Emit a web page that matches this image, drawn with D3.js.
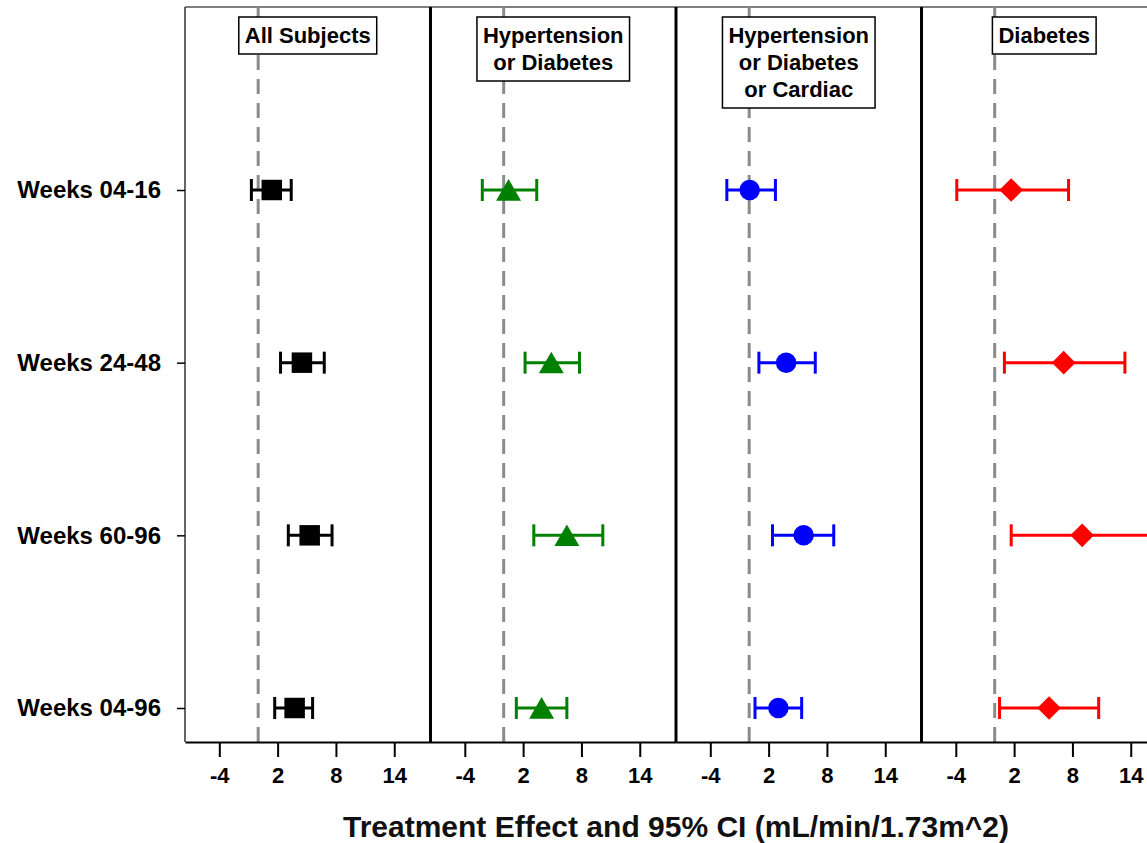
<!DOCTYPE html>
<html>
<head>
<meta charset="utf-8">
<script src="https://cdn.jsdelivr.net/npm/d3@7"></script>
<style>
  body { margin: 0; background: #fff; }
  svg { display: block; font-family: "Liberation Sans", Arial, sans-serif; }
</style>
</head>
<body>
<svg></svg>
<script>
// sizes
var width = 1147;
var height = 843;

// data
var periods = ["Weeks 04-16", "Weeks 24-48", "Weeks 60-96", "Weeks 04-96"];
var groups = [
  ["All Subjects"],
  ["Hypertension", "or Diabetes"],
  ["Hypertension", "or Diabetes", "or Cardiac"],
  ["Diabetes"]
];
var estimates = [
  [1.4, 4.5, 5.3, 3.75],
  [0.5, 4.9, 6.5, 3.9],
  [0.05, 3.8, 5.6, 3.0],
  [1.7, 7.1, 9.0, 5.6]
];
var lowerCI = [
  [-0.7, 2.3, 3.1, 1.7],
  [-2.2, 2.2, 3.1, 1.3],
  [-2.3, 1.0, 2.4, 0.6],
  [-3.9, 1.0, 1.7, 0.5]
];
var upperCI = [
  [3.4, 6.8, 7.6, 5.6],
  [3.4, 7.8, 10.2, 6.5],
  [2.7, 6.8, 8.7, 5.4],
  [7.6, 13.4, 16.5, 10.7]
];
var tickValues = [-4, 2, 8, 14];
var colors = ["#000000", "#008000", "#0000ff", "#ff0000"];

var svg = d3.select("svg")
  .attr("width", width)
  .attr("height", height);

var plotTop = 7, plotBottom = 742;

// panels side by side
var xBand = d3.scaleBand()
  .domain(d3.range(groups.length))
  .range([185, 1167]);

var x = d3.scaleLinear()
  .domain([-7.53, 17.73])
  .range([0, xBand.bandwidth()]);

var y = d3.scalePoint()
  .domain(periods)
  .range([190, 708]);

var symbols = [
  d3.symbol().type(d3.symbolSquare).size(420),
  d3.symbol().type(d3.symbolTriangle).size(270),
  d3.symbol().type(d3.symbolCircle).size(330),
  d3.symbol().type(d3.symbolSquare).size(280)
];

// top border
svg.append("line")
  .attr("x1", 185).attr("x2", width)
  .attr("y1", plotTop).attr("y2", plotTop)
  .attr("stroke", "#555").attr("stroke-width", 1.5);

// left border
svg.append("line")
  .attr("x1", 185).attr("x2", 185)
  .attr("y1", plotTop).attr("y2", plotBottom)
  .attr("stroke", "#333").attr("stroke-width", 1.5);

// y axis
var yAxis = svg.append("g")
  .attr("transform", "translate(185,0)")
  .call(d3.axisLeft(y).tickSize(8).tickPadding(16));
yAxis.select(".domain").remove();
yAxis.selectAll("line").attr("stroke", "#000").attr("stroke-width", 1.5);
yAxis.selectAll("text")
  .attr("font-size", 24)
  .attr("font-weight", "bold")
  .attr("font-family", "Liberation Sans, Arial, sans-serif")
  .attr("fill", "#000");

groups.forEach(function(lines, gi) {
  var left = xBand(gi);
  var g = svg.append("g").attr("transform", "translate(" + left + ",0)");

  // reference line at zero
  g.append("line")
    .attr("x1", x(0)).attr("x2", x(0))
    .attr("y1", plotTop).attr("y2", plotBottom)
    .attr("stroke", "#8c8c8c")
    .attr("stroke-width", 3)
    .attr("stroke-dasharray", "15,9");

  // header box
  var header = g.append("g");
  var lineH = 27;
  var txt = header.selectAll("text")
    .data(lines)
    .enter()
    .append("text")
    .attr("x", xBand.bandwidth() / 2)
    .attr("y", function(d, i) { return 43 + i * lineH; })
    .attr("text-anchor", "middle")
    .attr("font-size", 22)
    .attr("font-weight", "bold")
    .text(function(d) { return d; });
  var maxW = d3.max(txt.nodes(), function(n) { return n.getComputedTextLength(); });
  header.insert("rect", "text")
    .attr("x", xBand.bandwidth() / 2 - maxW / 2 - 6)
    .attr("y", 17)
    .attr("width", maxW + 12)
    .attr("height", 10 + lines.length * lineH)
    .attr("fill", "#fff")
    .attr("stroke", "#000")
    .attr("stroke-width", 1.5);

  // error bars
  var rows = g.selectAll(".row")
    .data(periods)
    .enter()
    .append("g")
    .attr("class", "row")
    .attr("transform", function(d) { return "translate(0," + y(d) + ")"; });

  rows.append("line")
    .attr("x1", function(d, i) { return x(lowerCI[gi][i]); })
    .attr("x2", function(d, i) { return x(upperCI[gi][i]); })
    .attr("stroke", colors[gi]).attr("stroke-width", 3);
  rows.append("line")
    .attr("x1", function(d, i) { return x(lowerCI[gi][i]); })
    .attr("x2", function(d, i) { return x(lowerCI[gi][i]); })
    .attr("y1", -11).attr("y2", 11)
    .attr("stroke", colors[gi]).attr("stroke-width", 3);
  rows.append("line")
    .attr("x1", function(d, i) { return x(upperCI[gi][i]); })
    .attr("x2", function(d, i) { return x(upperCI[gi][i]); })
    .attr("y1", -11).attr("y2", 11)
    .attr("stroke", colors[gi]).attr("stroke-width", 3);

  // markers
  rows.append("path")
    .attr("d", symbols[gi])
    .attr("fill", colors[gi])
    .attr("transform", function(d, i) {
      var t = "translate(" + x(estimates[gi][i]) + "," + (gi === 1 ? 3.5 : 0) + ")";
      return gi === 3 ? t + " rotate(45)" : t;
    });

  // bottom axis
  var xAxis = g.append("g")
    .attr("transform", "translate(0," + plotBottom + ")")
    .call(d3.axisBottom(x).tickValues(tickValues).tickSize(15).tickPadding(10).tickSizeOuter(0));
  xAxis.select(".domain").attr("stroke", "#000").attr("stroke-width", 2);
  xAxis.selectAll(".tick line").attr("stroke", "#000").attr("stroke-width", 2);
  xAxis.selectAll("text")
    .attr("font-size", 22)
    .attr("font-weight", "bold")
    .attr("font-family", "Liberation Sans, Arial, sans-serif")
    .attr("fill", "#000")
    .text(function(d) { return d < 0 ? "-" + Math.abs(d) : d; });

  // divider on the right of each panel
  g.append("line")
    .attr("x1", xBand.bandwidth()).attr("x2", xBand.bandwidth())
    .attr("y1", plotTop).attr("y2", plotBottom)
    .attr("stroke", "#000").attr("stroke-width", 3);
});

// axis title
svg.append("text")
  .attr("x", (185 + 1167) / 2)
  .attr("y", 837)
  .attr("text-anchor", "middle")
  .attr("font-size", 30)
  .attr("font-weight", "bold")
  .attr("fill", "#111")
  .text("Treatment Effect and 95% CI (mL/min/1.73m^2)");
</script>
</body>
</html>
